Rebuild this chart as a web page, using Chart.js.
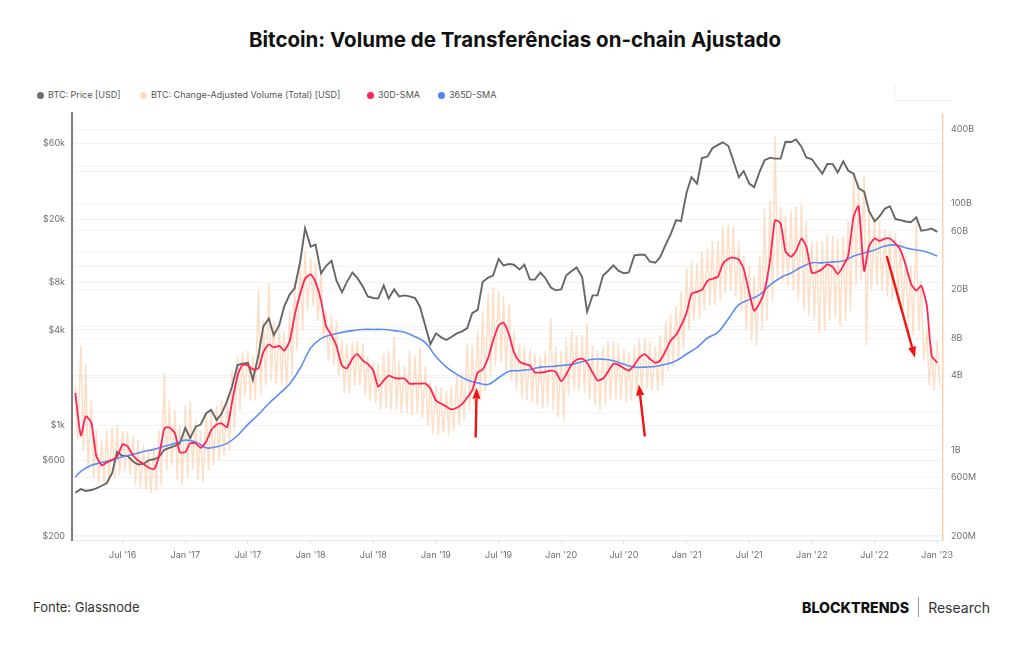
<!DOCTYPE html>
<html>
<head>
<meta charset="utf-8">
<script src="https://cdn.jsdelivr.net/npm/chart.js@4.4.1/dist/chart.umd.min.js"></script>
<style>
  body { margin: 0; width: 1024px; height: 645px; background: #fff; font-family: Inter, 'Noto Sans', sans-serif; position: relative; overflow: hidden; }
  h1 { position: absolute; top: 27px; left: 3px; width: 1024px; margin: 0; text-align: center; font-size: 20.5px; font-weight: 700; color: #111; line-height: 26px; }
  .legend { position: absolute; top: 88px; left: 0; height: 14px; font-size: 9px; color: #555; }
  .legend span { position: absolute; white-space: nowrap; line-height: 14px; }
  .legend i { display: inline-block; width: 7px; height: 7px; border-radius: 50%; margin-right: 4px; vertical-align: -0.5px; }
  .navbox { position: absolute; left: 894px; top: 84px; width: 56px; height: 16px; border-left: 1px solid #f0f0f0; border-bottom: 1px solid #f0f0f0; }
  #wrap { position: absolute; left: 30px; top: 100px; width: 963px; height: 462px; }
  .src { position: absolute; left: 33px; top: 598px; font-size: 13px; color: #333; line-height: 18px; }
  .brand { position: absolute; right: 34px; top: 597px; display: flex; align-items: center; height: 20px; }
  .brand b { font-weight: 800; font-size: 14.2px; letter-spacing: 0; color: #111; }
  .brand .sep { width: 1px; height: 20px; background: #999; margin: 0 9px; }
  .brand span { font-size: 14px; color: #333; }
</style>
</head>
<body>
<h1>Bitcoin: Volume de Transferências on-chain Ajustado</h1>
<div class="legend">
  <span style="left:37px"><i style="background:#6e6e6e"></i>BTC: Price [USD]</span>
  <span style="left:140px"><i style="background:#fddcc4"></i>BTC: Change-Adjusted Volume (Total) [USD]</span>
  <span style="left:367px"><i style="background:#ff2357"></i>30D-SMA</span>
  <span style="left:438px"><i style="background:#4f86f7"></i>365D-SMA</span>
</div>
<div class="navbox"></div>
<div id="wrap"><canvas id="chart"></canvas></div>
<div class="src">Fonte: Glassnode</div>
<div class="brand"><b>BLOCKTRENDS</b><div class="sep"></div><span>Research</span></div>

<script>
// half-month sampling dates
const dates = [
  '2016-02-15','2016-03-01','2016-03-15','2016-04-01','2016-04-15','2016-05-01','2016-05-15','2016-06-01','2016-06-15','2016-07-01','2016-07-15','2016-08-01','2016-08-15','2016-09-01','2016-09-15','2016-10-01','2016-10-15','2016-11-01','2016-11-15','2016-12-01','2016-12-15',
  '2017-01-01','2017-01-15','2017-02-01','2017-02-15','2017-03-01','2017-03-15','2017-04-01','2017-04-15','2017-05-01','2017-05-15','2017-06-01','2017-06-15','2017-07-01','2017-07-15','2017-08-01','2017-08-15','2017-09-01','2017-09-15','2017-10-01','2017-10-15','2017-11-01','2017-11-15','2017-12-01','2017-12-15',
  '2018-01-01','2018-01-15','2018-02-01','2018-02-15','2018-03-01','2018-03-15','2018-04-01','2018-04-15','2018-05-01','2018-05-15','2018-06-01','2018-06-15','2018-07-01','2018-07-15','2018-08-01','2018-08-15','2018-09-01','2018-09-15','2018-10-01','2018-10-15','2018-11-01','2018-11-15','2018-12-01','2018-12-15',
  '2019-01-01','2019-01-15','2019-02-01','2019-02-15','2019-03-01','2019-03-15','2019-04-01','2019-04-15','2019-05-01','2019-05-15','2019-06-01','2019-06-15','2019-07-01','2019-07-15','2019-08-01','2019-08-15','2019-09-01','2019-09-15','2019-10-01','2019-10-15','2019-11-01','2019-11-15','2019-12-01','2019-12-15',
  '2020-01-01','2020-01-15','2020-02-01','2020-02-15','2020-03-01','2020-03-15','2020-04-01','2020-04-15','2020-05-01','2020-05-15','2020-06-01','2020-06-15','2020-07-01','2020-07-15','2020-08-01','2020-08-15','2020-09-01','2020-09-15','2020-10-01','2020-10-15','2020-11-01','2020-11-15','2020-12-01','2020-12-15',
  '2021-01-01','2021-01-15','2021-02-01','2021-02-15','2021-03-01','2021-03-15','2021-04-01','2021-04-15','2021-05-01','2021-05-15','2021-06-01','2021-06-15','2021-07-01','2021-07-15','2021-08-01','2021-08-15','2021-09-01','2021-09-15','2021-10-01','2021-10-15','2021-11-01','2021-11-15','2021-12-01','2021-12-15',
  '2022-01-01','2022-01-15','2022-02-01','2022-02-15','2022-03-01','2022-03-15','2022-04-01','2022-04-15','2022-05-01','2022-05-15','2022-06-01','2022-06-15','2022-07-01','2022-07-15','2022-08-01','2022-08-15','2022-09-01','2022-09-15','2022-10-01','2022-10-15','2022-11-01','2022-11-15','2022-12-01','2022-12-15',
  '2023-01-01'
];

// BTC price, USD
const price = [
  375, 395, 385, 390, 400, 415, 430, 500, 680, 640, 640, 590, 565, 570, 600, 610, 630, 700, 720, 740, 770,
  960, 830, 980, 1010, 1190, 1250, 1080, 1180, 1420, 1750, 2400, 2450, 2480, 1930, 2750, 4200, 4700, 3700, 4300, 5600, 6700, 7300, 10800, 17500,
  13400, 13800, 9100, 10100, 10900, 8200, 6900, 8000, 9200, 8500, 7500, 6500, 6350, 6300, 7600, 6300, 7200, 6500, 6600, 6500, 6350, 5600, 4200, 3250,
  3800, 3600, 3450, 3600, 3800, 3900, 4100, 5100, 5350, 8000, 8550, 8800, 11200, 10200, 10400, 10300, 9600, 10300, 8300, 8300, 9200, 8500, 7400, 7100,
  7200, 8800, 9400, 9900, 8600, 5200, 6600, 6600, 8800, 9400, 10200, 9450, 9100, 9200, 11800, 11900, 11900, 10800, 10600, 11500, 13800, 16000, 19700, 19400,
  29400, 36800, 33500, 48500, 49600, 56000, 58800, 61000, 57800, 46800, 36700, 40200, 33500, 31800, 39900, 47000, 48800, 48100, 48100, 61500, 61300, 63600, 57200, 48900,
  47700, 43100, 38700, 44500, 44400, 39300, 46300, 40500, 38500, 31300, 29800, 22500, 19300, 20800, 23300, 24100, 20000, 19700, 19300, 19100, 20500, 16900, 17100, 17400,
  16600
];

// change-adjusted volume, billions USD: spike tops and troughs per date
const volHigh = [
  3.33, 7.0, 5.0, 2.52, 1.44, 1.2, 1.44, 1.52, 1.58, 1.44, 1.39, 1.31, 1.2, 1.09, 1.03, 1.09, 1.44, 4.25, 2.52, 2.09, 1.58,
  2.3, 2.52, 1.74, 1.44, 1.98, 2.09, 2.3, 2.52, 2.77, 4.4, 5.8, 6.2, 6.4, 5.8, 19.6, 11.2, 22.7, 11.2, 10.2, 9.3, 13.5, 23.6, 37.5, 41.2,
  36, 32.5, 28.4, 13.5, 12.3, 11.2, 7.7, 7.3, 7.7, 7.7, 7.3, 5.8, 5.3, 5.1, 6.1, 6.4, 8.2, 5.3, 4.8, 6.4, 5.8, 6.8, 4.8, 3.66,
  3.33, 3.2, 3.04, 3.33, 4.0, 4.17, 7.3, 7.0, 9.3, 13.5, 18.5, 20.7, 19.6, 17.8, 15.3, 9.3, 7.3, 7.0, 6.6, 6.1, 5.8, 6.4, 11.8, 7.0,
  6.4, 7.7, 9.3, 8.5, 8.5, 10.6, 7.0, 6.4, 7.0, 7.7, 7.7, 7.4, 6.6, 6.2, 7.0, 8.0, 8.0, 7.7, 7.0, 8.5, 11.2, 12.7, 14.8, 19.6,
  30, 34.2, 33, 41.2, 43, 49.7, 49.7, 65.7, 68.5, 65.7, 49.7, 37.5, 31.2, 25.9, 37.5, 92, 104.6, 351, 95, 79, 86.8, 95, 99, 72,
  49.7, 49.7, 49.7, 56.5, 54.5, 51.4, 54.5, 72, 183, 152, 167, 86.8, 79, 72, 62, 59.8, 57.6, 49.7, 37.5, 31.2, 72, 23.6, 9.3, 7.0,
  7.7
];
const volLow = [
  1.2, 0.99, 0.68, 0.59, 0.54, 0.52, 0.57, 0.59, 0.62, 0.68, 0.62, 0.52, 0.49, 0.47, 0.45, 0.46, 0.52, 0.68, 0.75, 0.57, 0.52,
  0.59, 0.68, 0.57, 0.55, 0.68, 0.75, 0.82, 0.9, 0.99, 1.44, 2.09, 2.77, 2.52, 2.52, 2.77, 3.33, 3.66, 3.45, 3.33, 3.15, 4.0, 6.4, 9.3, 13.5,
  14.8, 11.2, 7.7, 5.3, 4.8, 4.0, 2.87, 2.87, 3.33, 3.33, 2.77, 2.52, 2.43, 2.09, 2.17, 2.09, 2.09, 1.98, 1.98, 1.9, 1.98, 1.8, 1.58, 1.36,
  1.31, 1.36, 1.31, 1.44, 1.58, 1.74, 2.09, 2.3, 2.52, 3.04, 4.0, 4.8, 5.1, 4.4, 3.66, 3.04, 2.62, 2.52, 2.43, 2.3, 2.17, 2.3, 2.09, 1.84,
  1.74, 2.77, 3.04, 3.04, 2.87, 2.52, 2.3, 2.09, 2.3, 2.52, 2.62, 2.52, 2.43, 2.52, 2.77, 2.93, 3.15, 3.04, 3.04, 3.33, 4.4, 4.8, 5.3, 6.4,
  9.3, 11.2, 11.6, 13.5, 14.8, 14.8, 16.2, 18.5, 19.6, 17.8, 13.5, 9.3, 7.7, 7.0, 9.3, 11.2, 16.2, 23.6, 23.6, 21.5, 19.6, 16.2, 13.5, 12.3,
  11.2, 8.8, 9.3, 11.2, 11.6, 10.2, 11.2, 13.5, 21.5, 23.6, 7.0, 19.6, 21.5, 19.6, 17.8, 16.2, 14.8, 13.5, 10.2, 8.5, 9.3, 5.3, 3.33, 3.04,
  3.33
];

// 30-day SMA of volume, billions
const sma30 = [
  2.9, 1.31, 1.87, 1.67, 0.9, 0.75, 0.79, 0.83, 0.88, 1.11, 1.07, 0.9, 0.82, 0.77, 0.72, 0.7, 0.88, 1.5, 1.52, 1.37, 0.96,
  0.96, 1.13, 1.13, 1.04, 1.17, 1.44, 1.61, 1.64, 1.53, 2.42, 4.0, 4.9, 4.84, 4.5, 4.6, 6.2, 7.2, 6.8, 7.0, 6.4, 7.7, 12.3, 18.5, 24.5,
  26.6, 23.1, 16.2, 10.2, 8.5, 7.0, 4.84, 4.6, 5.5, 6.0, 5.3, 5.0, 4.4, 3.27, 3.66, 4.0, 3.85, 3.8, 3.8, 3.45, 3.45, 3.45, 3.45, 3.15,
  2.52, 2.38, 2.25, 2.13, 2.2, 2.34, 2.66, 3.04, 4.25, 4.5, 5.6, 7.7, 10.2, 10.8, 8.6, 6.2, 5.2, 5.0, 4.84, 4.25, 4.25, 4.3, 4.4, 4.3,
  3.6, 4.1, 4.95, 5.4, 5.5, 5.1, 4.25, 3.66, 3.8, 4.3, 5.0, 4.9, 4.6, 4.4, 4.9, 5.6, 6.0, 5.5, 5.1, 5.3, 6.4, 7.7, 8.6, 10.2,
  13.0, 18.5, 19.2, 19.9, 23.6, 24.5, 25.5, 32.3, 35.6, 36.4, 35, 29.4, 18.8, 13.5, 15.6, 19.6, 35, 73, 69, 41, 37, 41, 52, 44.5,
  27.3, 27.8, 29.4, 32, 30.5, 26.8, 31.2, 37.5, 79, 95, 28.4, 45, 52, 49.7, 52, 52, 47.3, 42, 31.2, 22.5, 19.6, 21.5, 14.8, 5.8,
  5.1
];

// 365-day SMA of volume, billions (first date, then 1st of each month)
const sma365 = [
  0.60, 0.67, 0.75, 0.79, 0.83, 0.88, 0.92, 0.97, 1.01, 1.07, 1.13,
  1.20, 1.16, 1.04, 1.06, 1.13, 1.31, 1.61, 1.94, 2.38, 2.85, 3.45, 4.6,
  6.7, 8.0, 8.6, 9.0, 9.3, 9.5, 9.5, 9.5, 9.3, 9.0, 8.3, 7.4,
  5.7, 4.7, 4.1, 3.7, 3.5, 3.4, 3.85, 4.35, 4.4, 4.5, 4.7, 4.75,
  4.85, 4.95, 5.2, 5.45, 5.45, 5.3, 4.95, 4.7, 4.7, 4.75, 4.95, 5.3,
  6.0, 6.8, 8.1, 9.0, 11.6, 15.1, 16.6, 18.2, 21.9, 25, 27.3, 30.5,
  33.0, 33.0, 33.6, 34.2, 37.5, 39.7, 42, 45.2, 46.1, 43.6, 42, 40.4,
  37.5
];

const tickMonths = [6, 12, 18, 24, 30, 36, 42, 48, 54, 60, 66, 72, 78, 84];
const tickLabels = ["Jul '16", "Jan '17", "Jul '17", "Jan '18", "Jul '18", "Jan '19", "Jul '19", "Jan '20", "Jul '20", "Jan '21", "Jul '21", "Jan '22", "Jul '22", "Jan '23"];

const priceTicks = [200, 600, 1000, 4000, 8000, 20000, 60000];
const priceTickLabels = ['$200', '$600', '$1k', '$4k', '$8k', '$20k', '$60k'];
const priceGrid = [200, 400, 600, 1000, 2000, 4000, 8000, 10000, 20000, 40000, 60000];

const volTicks = [0.2, 0.6, 1, 4, 8, 20, 60, 100, 400];
const volTickLabels = ['200M', '600M', '1B', '4B', '8B', '20B', '60B', '100B', '400B'];
const volGrid = [0.2, 0.6, 1, 2, 4, 8, 10, 20, 40, 60, 100, 200, 400];

// red annotation arrows, [date, volume in billions]
const arrows = [
  { from: ['2019-04-25', 1.26], to: ['2019-04-28', 3.2] },
  { from: ['2020-09-01', 1.29], to: ['2020-08-14', 3.39] },
  { from: ['2022-08-06', 37.5], to: ['2022-10-27', 5.6] }
];

function toMonths(s) {
  const [y, m, d] = s.split('-').map(Number);
  return (y - 2016) * 12 + (m - 1) + (d - 1) / 30;
}

const pricePoints = dates.map((d, i) => ({ x: toMonths(d), y: price[i] }));
const sma30Points = dates.map((d, i) => ({ x: toMonths(d), y: sma30[i] }));
const longDates = dates.filter((d, i) => i === 0 || d.endsWith('-01'));
const sma365Points = longDates.map((d, i) => ({ x: toMonths(d), y: sma365[i] }));
const volumePoints = [];
dates.forEach((d, i) => {
  const m = toMonths(d);
  volumePoints.push({ x: m, y: volHigh[i] }, { x: m + 0.23, y: volLow[i] });
});

const arrowPlugin = {
  id: 'arrows',
  afterDatasetsDraw(chart) {
    const { ctx, scales } = chart;
    ctx.save();
    ctx.strokeStyle = '#f21212';
    ctx.fillStyle = '#f21212';
    ctx.lineWidth = 2.4;
    arrows.forEach(a => {
      const x1 = scales.x.getPixelForValue(toMonths(a.from[0]));
      const y1 = scales.yVol.getPixelForValue(a.from[1]);
      const x2 = scales.x.getPixelForValue(toMonths(a.to[0]));
      const y2 = scales.yVol.getPixelForValue(a.to[1]);
      const ang = Math.atan2(y2 - y1, x2 - x1);
      const head = 11;
      const bx = x2 - head * Math.cos(ang), by = y2 - head * Math.sin(ang);
      ctx.beginPath();
      ctx.moveTo(x1, y1);
      ctx.lineTo(bx, by);
      ctx.stroke();
      ctx.beginPath();
      ctx.moveTo(x2, y2);
      ctx.lineTo(bx + 4 * Math.sin(ang), by - 4 * Math.cos(ang));
      ctx.lineTo(bx - 4 * Math.sin(ang), by + 4 * Math.cos(ang));
      ctx.closePath();
      ctx.fill();
    });
    ctx.restore();
  }
};

Chart.defaults.font.family = 'Inter';
Chart.defaults.font.size = 9;
Chart.defaults.color = '#6f6f6f';

new Chart(document.getElementById('chart'), {
  type: 'line',
  data: {
    datasets: [
      { label: 'BTC: Change-Adjusted Volume (Total) [USD]', data: volumePoints, yAxisID: 'yVol', borderColor: 'rgba(250,186,136,0.45)', borderWidth: 1.6, order: 4 },
      { label: 'BTC: Price [USD]', data: pricePoints, yAxisID: 'yPrice', borderColor: '#666666', borderWidth: 1.9, order: 3 },
      { label: '365D-SMA', data: sma365Points, yAxisID: 'yVol', borderColor: '#5a8ef2', borderWidth: 1.6, tension: 0.4, order: 2 },
      { label: '30D-SMA', data: sma30Points, yAxisID: 'yVol', borderColor: '#ff2557', borderWidth: 1.8, tension: 0.2, order: 1 }
    ]
  },
  options: {
    responsive: true,
    maintainAspectRatio: false,
    animation: false,
    events: [],
    layout: { padding: { top: 8, bottom: 0, left: 0, right: 0 } },
    elements: { point: { radius: 0 } },
    plugins: { legend: { display: false }, tooltip: { enabled: false } },
    scales: {
      x: {
        type: 'linear',
        min: 1.15,
        max: 84.55,
        afterBuildTicks: s => { s.ticks = tickMonths.map(v => ({ value: v })); },
        afterFit: s => { s.height = 22; },
        ticks: { autoSkip: false, maxRotation: 0, padding: 6, callback: v => tickLabels[tickMonths.indexOf(v)] },
        grid: { drawOnChartArea: false, drawTicks: true, tickLength: 4, color: '#e2e2e2' },
        border: { color: '#e8e8e8', width: 1 }
      },
      yPrice: {
        type: 'logarithmic',
        position: 'left',
        min: 188.7,
        max: 92840,
        afterBuildTicks: s => { s.ticks = priceGrid.map(v => ({ value: v })); },
        afterFit: s => { s.width = 42; },
        ticks: { autoSkip: false, padding: 7, callback: v => { const i = priceTicks.indexOf(v); return i < 0 ? '' : priceTickLabels[i]; } },
        grid: { drawTicks: false, color: 'rgba(0,0,0,0.05)' },
        border: { color: '#7d7d7d', width: 2 }
      },
      yVol: {
        type: 'logarithmic',
        position: 'right',
        min: 0.1857,
        max: 538.8,
        afterBuildTicks: s => { s.ticks = volGrid.map(v => ({ value: v })); },
        afterFit: s => { s.width = 50; },
        ticks: { autoSkip: false, padding: 8, callback: v => { const i = volTicks.indexOf(v); return i < 0 ? '' : volTickLabels[i]; } },
        grid: { drawTicks: false, color: 'rgba(0,0,0,0.045)' },
        border: { color: '#fad2b0', width: 1.5 }
      }
    }
  },
  plugins: [arrowPlugin]
});
</script>
</body>
</html>
